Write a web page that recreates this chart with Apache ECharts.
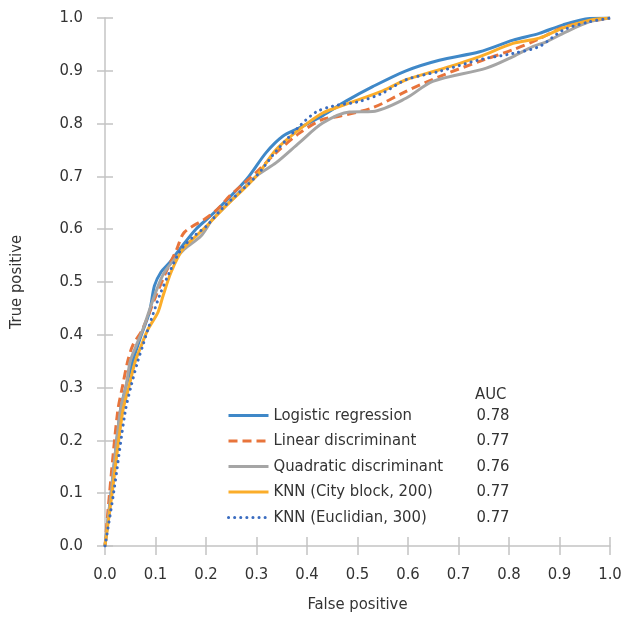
<!DOCTYPE html>
<html>
<head>
<meta charset="UTF-8">
<title>ROC</title>
<style>
  html, body { margin: 0; padding: 0; background: #fff; }
  #main { width: 627px; height: 618px; }
</style>
</head>
<body>
<div id="main"></div>
<script src="https://cdn.jsdelivr.net/npm/echarts@6/dist/echarts.min.js"></script>
<script>
// ROC curves, [false positive, true positive]
var logistic = [[0,0],[0.012,0.1],[0.03,0.254],[0.042,0.304],[0.055,0.35],[0.072,0.4],[0.088,0.443],[0.098,0.493],[0.111,0.519],[0.128,0.537],[0.148,0.562],[0.18,0.6],[0.217,0.632],[0.28,0.694],[0.319,0.745],[0.352,0.776],[0.385,0.792],[0.431,0.815],[0.478,0.843],[0.53,0.87],[0.596,0.9],[0.662,0.92],[0.742,0.936],[0.808,0.958],[0.86,0.971],[0.907,0.987],[0.96,0.999],[1,1]];
var linearDisc = [[0,0],[0.009,0.1],[0.025,0.254],[0.035,0.304],[0.045,0.35],[0.055,0.38],[0.074,0.41],[0.101,0.474],[0.121,0.519],[0.142,0.562],[0.157,0.594],[0.197,0.619],[0.223,0.638],[0.247,0.663],[0.299,0.707],[0.339,0.745],[0.385,0.782],[0.431,0.808],[0.464,0.814],[0.53,0.83],[0.596,0.861],[0.662,0.889],[0.742,0.918],[0.808,0.94],[0.854,0.958],[0.913,0.984],[1,1]];
var quadDisc = [[0,0],[0.012,0.1],[0.03,0.254],[0.042,0.304],[0.05,0.35],[0.062,0.38],[0.075,0.41],[0.098,0.474],[0.118,0.519],[0.157,0.562],[0.19,0.587],[0.213,0.619],[0.233,0.638],[0.299,0.7],[0.339,0.726],[0.385,0.764],[0.431,0.801],[0.484,0.822],[0.53,0.823],[0.596,0.848],[0.649,0.88],[0.755,0.905],[0.808,0.927],[0.847,0.946],[0.874,0.955],[0.907,0.971],[0.96,0.993],[1,1]];
var knnCity = [[0,0],[0.014,0.1],[0.035,0.254],[0.048,0.304],[0.06,0.35],[0.072,0.38],[0.085,0.41],[0.105,0.443],[0.115,0.474],[0.131,0.519],[0.154,0.562],[0.18,0.587],[0.2,0.605],[0.233,0.638],[0.299,0.7],[0.339,0.751],[0.385,0.789],[0.431,0.82],[0.478,0.837],[0.55,0.862],[0.596,0.883],[0.662,0.902],[0.742,0.927],[0.808,0.952],[0.86,0.962],[0.907,0.981],[0.96,0.996],[1,1]];
var knnEuclid = [[0,0],[0.017,0.1],[0.04,0.254],[0.052,0.304],[0.065,0.35],[0.075,0.38],[0.085,0.41],[0.108,0.474],[0.128,0.519],[0.151,0.562],[0.18,0.59],[0.2,0.605],[0.233,0.64],[0.299,0.7],[0.339,0.748],[0.385,0.795],[0.418,0.822],[0.451,0.833],[0.504,0.842],[0.55,0.858],[0.596,0.883],[0.662,0.899],[0.742,0.921],[0.808,0.933],[0.86,0.946],[0.907,0.977],[0.96,0.993],[1,1]];

var names = ['Logistic regression', 'Linear discriminant', 'Quadratic discriminant', 'KNN (City block, 200)', 'KNN (Euclidian, 300)'];
var aucValues = ['0.78', '0.77', '0.76', '0.77', '0.77'];
var curves = [logistic, linearDisc, quadDisc, knnCity, knnEuclid];
var colors = ['#3f88c8', '#e8743b', '#a5a5a5', '#fbad2a', '#3a6cc0'];
var dashes = ['solid', [9, 5], 'solid', 'solid', [0.1, 6]];

var font = "'DejaVu Sans Condensed', Roboto, sans-serif";
var axisColor = '#c4c4c4';

var chart = echarts.init(document.getElementById('main'));

var series = curves.map(function (d, i) {
    return {
        name: names[i],
        type: 'line',
        data: d,
        smooth: 0.3,
        symbol: 'none',
        lineStyle: { color: colors[i], width: 3, type: dashes[i], cap: i === 4 ? 'round' : 'butt' },
        itemStyle: { color: colors[i] }
    };
});

var option = {
    animation: false,
    textStyle: { fontFamily: font },
    grid: { left: 105, right: 17, top: 18, bottom: 70 },
    legend: {
        data: names,
        orient: 'vertical',
        left: 222,
        top: 402,
        itemWidth: 40,
        itemHeight: 14,
        itemGap: 8.5,
        itemStyle: { opacity: 0 },
        lineStyle: { width: 3 },
        formatter: function (name) {
            return '{n|' + name + '}{v|' + aucValues[names.indexOf(name)] + '}';
        },
        textStyle: {
            fontFamily: font, color: '#333',
            rich: {
                n: { width: 203, fontSize: 16.5, fontFamily: font, color: '#333' },
                v: { fontSize: 16.5, fontFamily: font, color: '#333' }
            }
        }
    },
    graphic: [{
        type: 'text', left: 475, top: 386,
        style: { text: 'AUC', font: '16.5px ' + font, fill: '#333' }
    }],
    xAxis: [{
        type: 'value', min: 0, max: 1, interval: 0.1,
        name: 'False positive', nameLocation: 'middle', nameGap: 50,
        nameTextStyle: { fontSize: 16.5, color: '#333', fontFamily: font },
        axisLine: { show: true, lineStyle: { color: axisColor, width: 1.5 } },
        axisTick: { show: true, length: 9, lineStyle: { color: axisColor, width: 1.5 } },
        axisLabel: { fontSize: 16.5, color: '#333', margin: 20, fontFamily: font,
            formatter: function (v) { return v.toFixed(1); } },
        splitLine: { show: false }
    }, {
        type: 'value', min: 0, max: 1, interval: 0.1, position: 'bottom',
        axisLine: { show: false },
        axisTick: { show: true, inside: true, length: 9, lineStyle: { color: axisColor, width: 1.5 } },
        axisLabel: { show: false },
        splitLine: { show: false }
    }],
    yAxis: [{
        type: 'value', min: 0, max: 1, interval: 0.1,
        name: 'True positive', nameLocation: 'middle', nameGap: 80, nameRotate: 90,
        nameTextStyle: { fontSize: 16.5, color: '#333', fontFamily: font },
        axisLine: { show: true, lineStyle: { color: axisColor, width: 1.5 } },
        axisTick: { show: true, length: 8, lineStyle: { color: axisColor, width: 1.5 } },
        axisLabel: { fontSize: 16.5, color: '#333', margin: 22, fontFamily: font,
            formatter: function (v) { return v.toFixed(1); } },
        splitLine: { show: false }
    }, {
        type: 'value', min: 0, max: 1, interval: 0.1, position: 'left',
        axisLine: { show: false },
        axisTick: { show: true, inside: true, length: 8, lineStyle: { color: axisColor, width: 1.5 } },
        axisLabel: { show: false },
        splitLine: { show: false }
    }],
    series: series
};

chart.setOption(option);
</script>
</body>
</html>
